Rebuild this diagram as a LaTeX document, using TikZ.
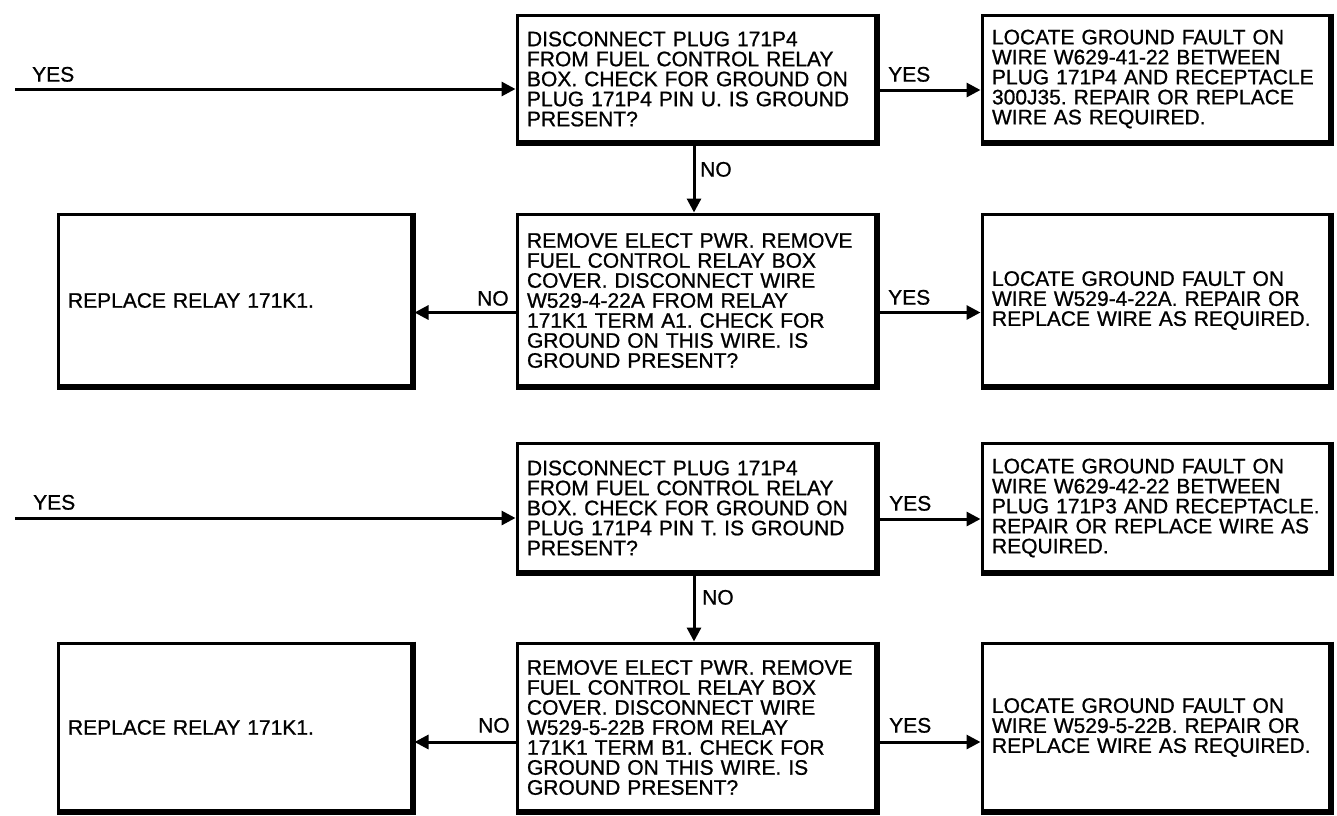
\documentclass[tikz,border=0pt]{standalone}
\usepackage{fontspec}
\setmainfont{Liberation Sans}[FakeBold=0.9]
\usepackage{tikz}
\usetikzlibrary{arrows.meta, positioning, calc}
\newcommand{\boxfont}{\fontsize{21}{20}\selectfont}
\frenchspacing
\tikzset{
  box/.style={draw, rectangle, line width=3pt, inner xsep=10pt, inner ysep=0pt, align=left, font=\boxfont},
  midbox/.style={box, text width=340pt},
  rightbox/.style={box, text width=329pt},
  leftbox/.style={box, text width=335pt},
  heavy/.style={line width=6pt, line join=miter},
  flow/.style={line width=3pt, -{Triangle[length=14pt,width=14pt]}},
  lbl/.style={font=\boxfont, inner sep=0pt, anchor=south west}
}

\begin{document}
\begin{tikzpicture}[x=1pt, y=-1pt]
  \useasboundingbox (0,0) rectangle (1337,815);

  \node[midbox, minimum height=128pt] (q1) at (697,79) {DISCONNECT PLUG 171P4\\FROM FUEL CONTROL RELAY\\BOX. CHECK FOR GROUND ON\\PLUG 171P4 PIN U. IS GROUND\\PRESENT?};
  \node[rightbox, minimum height=128pt] (f1) at (1156.5,79) {LOCATE GROUND FAULT ON\\WIRE W629-41-22 BETWEEN\\PLUG 171P4 AND RECEPTACLE\\300J35. REPAIR OR REPLACE\\WIRE AS REQUIRED.};
  \node[midbox, minimum height=173pt] (q2) at (697,300.5) {REMOVE ELECT PWR. REMOVE\\FUEL CONTROL RELAY BOX\\COVER. DISCONNECT WIRE\\W529-4-22A FROM RELAY\\171K1 TERM A1. CHECK FOR\\GROUND ON THIS WIRE. IS\\GROUND PRESENT?};
  \node[leftbox, minimum height=173pt] (r1) at (235.5,300.5) {REPLACE RELAY 171K1.};
  \node[rightbox, minimum height=173pt] (f2) at (1156.5,300.5) {LOCATE GROUND FAULT ON\\WIRE W529-4-22A. REPAIR OR\\REPLACE WIRE AS REQUIRED.};

  \node[midbox, minimum height=130pt] (q3) at (697,508) {DISCONNECT PLUG 171P4\\FROM FUEL CONTROL RELAY\\BOX. CHECK FOR GROUND ON\\PLUG 171P4 PIN T. IS GROUND\\PRESENT?};
  \node[rightbox, minimum height=130pt] (f3) at (1156.5,508) {LOCATE GROUND FAULT ON\\WIRE W629-42-22 BETWEEN\\PLUG 171P3 AND RECEPTACLE.\\REPAIR OR REPLACE WIRE AS\\REQUIRED.};
  \node[midbox, minimum height=169pt] (q4) at (697,727.5) {REMOVE ELECT PWR. REMOVE\\FUEL CONTROL RELAY BOX\\COVER. DISCONNECT WIRE\\W529-5-22B FROM RELAY\\171K1 TERM B1. CHECK FOR\\GROUND ON THIS WIRE. IS\\GROUND PRESENT?};
  \node[leftbox, minimum height=169pt] (r2) at (235.5,727.5) {REPLACE RELAY 171K1.};
  \node[rightbox, minimum height=169pt] (f4) at (1156.5,727.5) {LOCATE GROUND FAULT ON\\WIRE W529-5-22B. REPAIR OR\\REPLACE WIRE AS REQUIRED.};

  \foreach \n in {q1,f1,q2,r1,f2,q3,f3,q4,r2,f4}
    \draw[heavy] ([shift={(-2pt,0pt)}]\n.north east) -- ([shift={(-2pt,2pt)}]\n.south east) -- ([shift={(0pt,2pt)}]\n.south west);

  \coordinate (in1) at (15,89);
  \coordinate (in2) at (15,518);

  \draw[flow] (in1) -- (in1 -| q1.west);
  \draw[flow] ([yshift=-11pt]q1.east) -- ([yshift=-11pt]f1.west);
  \draw[flow] ([xshift=-3pt]q1.south) -- ([xshift=-3pt]q2.north);
  \draw[flow] ([yshift=-12pt]q2.west) -- ([yshift=-12pt]r1.east);
  \draw[flow] ([yshift=-12pt]q2.east) -- ([yshift=-12pt]f2.west);

  \draw[flow] (in2) -- (in2 -| q3.west);
  \draw[flow] ([yshift=-11pt]q3.east) -- ([yshift=-11pt]f3.west);
  \draw[flow] ([xshift=-3pt]q3.south) -- ([xshift=-3pt]q4.north);
  \draw[flow] ([yshift=-14.5pt]q4.west) -- ([yshift=-14.5pt]r2.east);
  \draw[flow] ([yshift=-14.5pt]q4.east) -- ([yshift=-14.5pt]f4.west);

  \node[lbl] (y1) at (32,82) {YES};
  \node[lbl] (y2) at (888,82) {YES};
  \node[lbl] (n1) at (700,177) {NO};
  \node[lbl] (n2) at (477,306) {NO};
  \node[lbl] (y3) at (888,305) {YES};

  \node[lbl] (y4) at (33,510) {YES};
  \node[lbl] (y5) at (889,511) {YES};
  \node[lbl] (n3) at (702,605) {NO};
  \node[lbl] (n4) at (478,733) {NO};
  \node[lbl] (y6) at (889,733) {YES};
\end{tikzpicture}
\end{document}
